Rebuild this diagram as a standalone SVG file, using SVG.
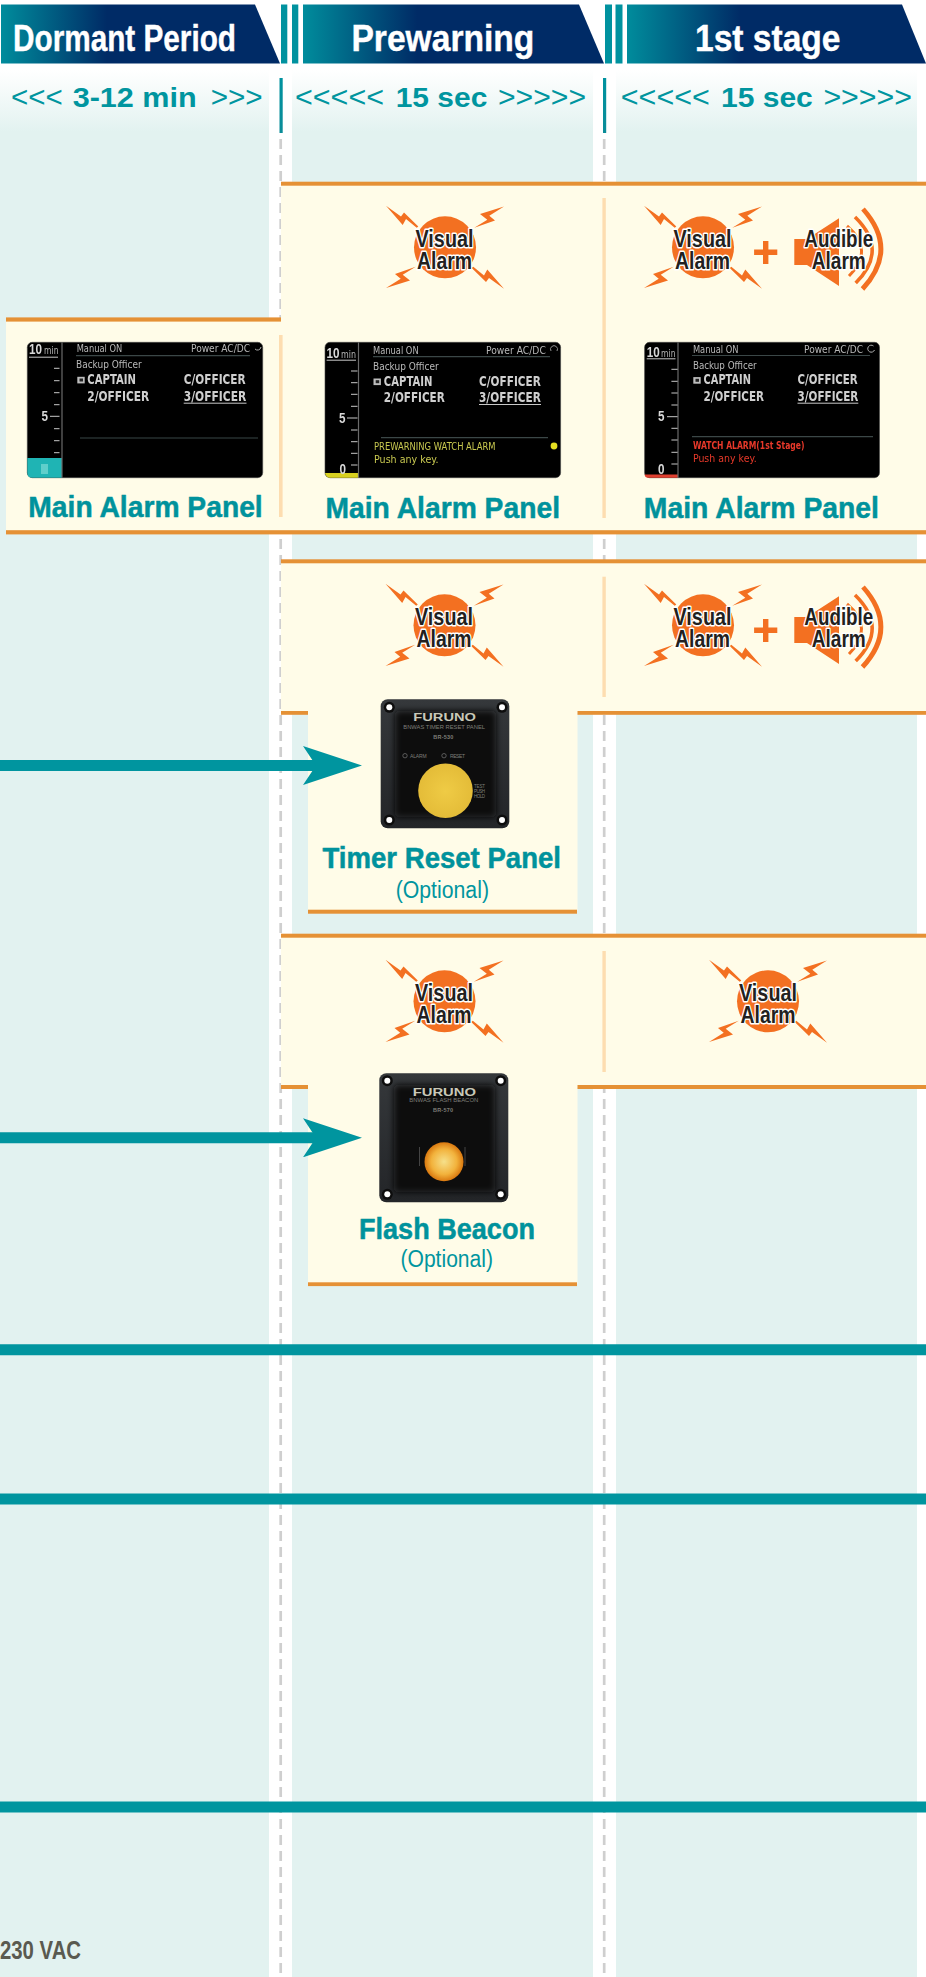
<svg xmlns="http://www.w3.org/2000/svg" width="926" height="1977" viewBox="0 0 926 1977">
<style>
text{font-family:"Liberation Sans",Arial,sans-serif}
.hd{font-size:37px;font-weight:bold;fill:#fff;stroke:#fff;stroke-width:.4}
.tb{font-size:28px;font-weight:bold;fill:#00959F}
.tr{font-size:29px;fill:#00959F}
.lbl{font-size:30px;font-weight:bold;fill:#00929C;stroke:#00929C;stroke-width:.5}
.opt{font-size:23px;fill:#00959F}
.ic{font-size:24px;font-weight:bold;fill:#231F20;stroke:#fff;stroke-width:3;paint-order:stroke;stroke-linejoin:round;text-anchor:middle}
.or{fill:#E59135}
.cream{fill:#FFFCE8}
.sep{fill:#FDDDB0}
.col{fill:url(#colGrad)}
.bar{fill:#00929F}
.sc{fill:#000;stroke:#444;stroke-width:.6}
.st{font-family:"DejaVu Sans",sans-serif;font-size:10px;fill:#B8B8B8}
.sb{font-family:"DejaVu Sans",sans-serif;font-size:13.5px;font-weight:bold;fill:#CFCFCF}
.sn{font-family:"Liberation Sans",sans-serif;font-size:14px;font-weight:bold;fill:#D8D8D8}
.ln{stroke:#C8C8C8;stroke-width:1;fill:none}
.dim{stroke:#3A4646;stroke-width:1.2;fill:none}
.dash{stroke:#CFCFCF;stroke-width:2.7;stroke-dasharray:10 6;fill:none}
.wire{stroke:#00959F;stroke-width:11;fill:none}
.dt{font-family:"Liberation Sans",sans-serif;fill:#7E7E78}
.sfx{fill:#F37021}
</style>
<defs>
<linearGradient id="colGrad" x1="0" y1="70" x2="0" y2="132" gradientUnits="userSpaceOnUse"><stop offset="0" stop-color="#fff"/><stop offset="1" stop-color="#E2F2F0"/></linearGradient>
<linearGradient id="hdGrad" x1="0" y1="0" x2="1" y2="0"><stop offset="0" stop-color="#008C9C"/><stop offset=".38" stop-color="#002B66"/><stop offset="1" stop-color="#002B66"/></linearGradient>
<linearGradient id="tick" x1="0" y1="0" x2="0" y2="1"><stop offset="0" stop-color="#00929F"/><stop offset="1" stop-color="#0A8C98"/></linearGradient>
<linearGradient id="case" x1="0" y1="0" x2="0" y2="1"><stop offset="0" stop-color="#35383B"/><stop offset="1" stop-color="#232528"/></linearGradient>
<radialGradient id="btn"><stop offset="0" stop-color="#EFCB45"/><stop offset="1" stop-color="#E4BC38"/></radialGradient>
<radialGradient id="beacon"><stop offset="0" stop-color="#F6E08A"/><stop offset=".65" stop-color="#F2B23C"/><stop offset="1" stop-color="#D9780F"/></radialGradient>
<filter id="soft" x="-5%" y="-5%" width="110%" height="110%"><feGaussianBlur stdDeviation=".3"/></filter>
<filter id="soft3" x="-10%" y="-10%" width="120%" height="120%"><feGaussianBlur stdDeviation="3"/></filter>
<marker id="head" markerUnits="userSpaceOnUse" markerWidth="59" markerHeight="39" viewBox="0 0 59 39" refX="13" refY="19.5" orient="auto"><path d="M0 0L59 19.5L0 39L13 19.5Z" fill="#00959F"/></marker>
<g id="visual" class="sfx">
<circle r="31"/>
<path d="M-59-41.5L-44-30.8L-41-34.8L-26.7-20.8L-28.3-19.5L-39-28.2L-42.3-22.2Z"/>
<path d="M59-40.8L35-33.2L42.3-27.5L29.3-19.5L50-26.8L44.3-31.5Z"/>
<path d="M-59 40.8L-35 33.2L-42.3 27.5L-29.3 19.5L-50 26.8L-44.3 31.5Z"/>
<path d="M59 41.5L44 30.8L41 34.8L26.7 20.8L28.3 19.5L39 28.2L42.3 22.2Z"/>
</g>
<g id="audible">
<path class="sfx" d="M794.3 239H807L839 218.3V286L807 265H794.3Z"/>
<g fill="none" stroke="#F37021">
<path stroke-width="4.8" d="M863 209Q899 249.5 862.5 289"/>
<path stroke-width="3.6" d="M855 217Q889 250 855.7 283"/>
<path stroke-width="3" d="M847 226Q875 250 849 276"/>
</g>
<path class="sfx" d="M763 241h5.4v8.6h8.9v5.4h-8.9v8.9H763V255h-8.9v-5.4H763Z"/>
</g>
</defs>

<g id="backdrop">
<rect width="926" height="1977" fill="#fff"/>
<rect class="col" x="0" y="70" width="269" height="1907"/>
<rect class="col" x="292" y="70" width="301" height="1907"/>
<rect class="col" x="616" y="70" width="301" height="1907"/>
<path class="dash" d="M280.7 139V1977M604.2 139V1977"/>
<rect x="279.5" y="78" width="3.2" height="55" fill="url(#tick)"/>
<rect x="603" y="78" width="3.2" height="55" fill="url(#tick)"/>
</g>

<g id="panels">
<path class="cream" d="M281 183H926V533H6V319H281Z"/>
<path class="cream" d="M281 561H926V713H577.5V911H308V713H281Z"/>
<path class="cream" d="M281 935H926V1087H577.5V1284H308V1087H281Z"/>
<rect class="or" x="281" y="181.7" width="645" height="4"/>
<rect class="or" x="6" y="317.4" width="275" height="4.2"/>
<rect class="or" x="6" y="530.2" width="920" height="4.2"/>
<rect class="or" x="281" y="559.3" width="645" height="4"/>
<rect class="or" x="281" y="711" width="27" height="3.8"/>
<rect class="or" x="577.5" y="711" width="348.5" height="3.8"/>
<rect class="or" x="308" y="909.7" width="269" height="4"/>
<rect class="or" x="281" y="933.7" width="645" height="4"/>
<rect class="or" x="281" y="1085" width="27" height="4"/>
<rect class="or" x="577.5" y="1085" width="348.5" height="4"/>
<rect class="or" x="308" y="1282.3" width="269" height="3.8"/>
<rect class="sep" x="279" y="335" width="3.6" height="182"/>
<rect class="sep" x="602.4" y="198" width="3.4" height="320"/>
<rect class="sep" x="602.4" y="576.7" width="3.4" height="120.3"/>
<rect class="sep" x="602.4" y="951" width="3.4" height="121"/>
</g>

<g id="connectors">
<path class="wire" d="M0 765.5H316" marker-end="url(#head)"/>
<path class="wire" d="M0 1137.8H316" marker-end="url(#head)"/>
<path class="wire" d="M0 1349.7H926"/>
<path class="wire" d="M0 1499H926"/>
<path class="wire" d="M0 1807H926"/>
</g>

<g id="header-dormant">
<path fill="url(#hdGrad)" d="M1 4.5H255L280 63.5H1Z"/>
<text class="hd" x="13" y="51" textLength="223" lengthAdjust="spacingAndGlyphs">Dormant Period</text>
<rect class="bar" x="281" y="4.5" width="6.3" height="59"/>
<rect class="bar" x="292" y="4.5" width="6.3" height="59"/>
</g>
<g id="header-prewarning">
<path fill="url(#hdGrad)" d="M303 4.5H579L604 63.5H303Z"/>
<text class="hd" x="351.4" y="51" textLength="183" lengthAdjust="spacingAndGlyphs">Prewarning</text>
<rect class="bar" x="605" y="4.5" width="7" height="59"/>
<rect class="bar" x="615.5" y="4.5" width="7" height="59"/>
</g>
<g id="header-first">
<path fill="url(#hdGrad)" d="M627 4.5H902L926 63.5H627Z"/>
<text class="hd" x="695" y="51" textLength="145.5" lengthAdjust="spacingAndGlyphs">1st stage</text>
</g>

<g id="time-dormant">
<text class="tr" x="11" y="107" textLength="51.7" lengthAdjust="spacingAndGlyphs">&lt;&lt;&lt;</text>
<text class="tb" x="72.7" y="107" textLength="124" lengthAdjust="spacingAndGlyphs">3-12 min</text>
<text class="tr" x="210.7" y="107" textLength="52" lengthAdjust="spacingAndGlyphs">&gt;&gt;&gt;</text>
</g>
<g id="time-prewarning">
<text class="tr" x="295" y="107" textLength="89" lengthAdjust="spacingAndGlyphs">&lt;&lt;&lt;&lt;&lt;</text>
<text class="tb" x="395.7" y="107" textLength="91.6" lengthAdjust="spacingAndGlyphs">15 sec</text>
<text class="tr" x="498" y="107" textLength="88" lengthAdjust="spacingAndGlyphs">&gt;&gt;&gt;&gt;&gt;</text>
</g>
<g id="time-first">
<text class="tr" x="620.8" y="107" textLength="89" lengthAdjust="spacingAndGlyphs">&lt;&lt;&lt;&lt;&lt;</text>
<text class="tb" x="721" y="107" textLength="91.8" lengthAdjust="spacingAndGlyphs">15 sec</text>
<text class="tr" x="823.4" y="107" textLength="88.6" lengthAdjust="spacingAndGlyphs">&gt;&gt;&gt;&gt;&gt;</text>
</g>

<g id="alarm-row1-prewarning">
<use href="#visual" x="445" y="247.3"/>
<text class="ic" x="444.5" y="246.7" textLength="58" lengthAdjust="spacingAndGlyphs">Visual</text>
<text class="ic" x="444.5" y="269" textLength="55" lengthAdjust="spacingAndGlyphs">Alarm</text>
</g>
<g id="alarm-row1-first">
<use href="#visual" x="703" y="247.3"/>
<text class="ic" x="702.5" y="246.7" textLength="58" lengthAdjust="spacingAndGlyphs">Visual</text>
<text class="ic" x="702.5" y="269" textLength="55" lengthAdjust="spacingAndGlyphs">Alarm</text>
<use href="#audible"/>
<text class="ic" x="838.8" y="246.7" textLength="69" lengthAdjust="spacingAndGlyphs">Audible</text>
<text class="ic" x="838.8" y="269.3" textLength="54" lengthAdjust="spacingAndGlyphs">Alarm</text>
</g>

<g id="screen-dormant">
<rect class="sc" x="27.3" y="342.3" width="235.4" height="135.4" rx="5"/>
<path fill="#1FB4B4" d="M27.3 458H62V477.7H32.3Q27.3 477.7 27.3 472.7Z"/>
<rect x="41" y="464" width="7" height="10" fill="#5FCFCB"/>
<g filter="url(#soft)">
<path d="M62 342.3V477.7" stroke="#6A6A6A" stroke-width="1.2"/>
<path class="ln" d="M54 368.3h5.5M54 380.7h5.5M54 392.7h5.5M54 404.7h5.5M50 416.3h9.5M54 428.7h5.5M54 440.7h5.5M54 452.7h5.5M29 357.2h29"/>
<text class="sn" x="29" y="354.3" textLength="13" lengthAdjust="spacingAndGlyphs">10</text>
<text class="st" x="44" y="354.3" textLength="14.5" lengthAdjust="spacingAndGlyphs">min</text>
<text class="sn" x="41.5" y="421" textLength="6.5" lengthAdjust="spacingAndGlyphs">5</text>
<text class="st" x="76.7" y="351.7" textLength="45.6" lengthAdjust="spacingAndGlyphs">Manual ON</text>
<text class="st" x="191" y="351.7" textLength="59" lengthAdjust="spacingAndGlyphs">Power AC/DC</text>
<path class="dim" d="M76 355.7H250M80 438H258"/>
<path d="M255 349a3.5 3.5 0 0 0 6-2" stroke="#B0B0B0" fill="none"/>
<text class="st" x="76" y="368.3" textLength="65.7" lengthAdjust="spacingAndGlyphs">Backup Officer</text>
<rect x="77.3" y="376.8" width="7.4" height="6.6" fill="#BDBDBD"/><rect x="79.5" y="378.5" width="3.5" height="3" fill="#222"/>
<text class="sb" x="87.3" y="384" textLength="48.7" lengthAdjust="spacingAndGlyphs">CAPTAIN</text>
<text class="sb" x="183.7" y="384" textLength="62" lengthAdjust="spacingAndGlyphs">C/OFFICER</text>
<text class="sb" x="87.3" y="401" textLength="62" lengthAdjust="spacingAndGlyphs">2/OFFICER</text>
<text class="sb" x="183.7" y="401" textLength="62.5" lengthAdjust="spacingAndGlyphs">3/OFFICER</text>
<path class="ln" d="M183.7 403.2H246.5"/>
</g>
<text class="lbl" x="28.3" y="517.3" textLength="234.4" lengthAdjust="spacingAndGlyphs">Main Alarm Panel</text>
</g>

<g id="screen-prewarning">
<rect class="sc" x="325" y="342.3" width="235.6" height="135.4" rx="5"/>
<path fill="#D8D020" d="M325 473H358.5V477.7H330Q326 477.7 325 473Z"/>
<g filter="url(#soft)">
<path d="M358.5 342.3V477.7" stroke="#6A6A6A" stroke-width="1.2"/>
<path class="ln" d="M351 371h6.5M351 382.7h6.5M351 394.3h6.5M351 406.3h6.5M347 418h10.5M351 430h6.5M351 441.7h6.5M351 453.3h6.5M351 465h6.5M326.6 360.2H356"/>
<text class="sn" x="326.6" y="358.3" textLength="13" lengthAdjust="spacingAndGlyphs">10</text>
<text class="st" x="341" y="358.3" textLength="15" lengthAdjust="spacingAndGlyphs">min</text>
<text class="sn" x="339" y="422.7" textLength="6.5" lengthAdjust="spacingAndGlyphs">5</text>
<text class="sn" x="339.5" y="474.3" textLength="6.5" lengthAdjust="spacingAndGlyphs">0</text>
<text class="st" x="373" y="354" textLength="45.6" lengthAdjust="spacingAndGlyphs">Manual ON</text>
<text class="st" x="486" y="353.7" textLength="59.8" lengthAdjust="spacingAndGlyphs">Power AC/DC</text>
<path class="dim" d="M373 356.7H550M381 437.7H548"/>
<path d="M551 351a3.5 3.5 0 1 1 6 0" stroke="#909090" fill="none"/>
<text class="st" x="373" y="370" textLength="65.7" lengthAdjust="spacingAndGlyphs">Backup Officer</text>
<rect x="373.5" y="378.5" width="7.4" height="6.6" fill="#BDBDBD"/><rect x="375.7" y="380.2" width="3.5" height="3" fill="#222"/>
<text class="sb" x="383.8" y="385.7" textLength="48.7" lengthAdjust="spacingAndGlyphs">CAPTAIN</text>
<text class="sb" x="479" y="385.7" textLength="61.8" lengthAdjust="spacingAndGlyphs">C/OFFICER</text>
<text class="sb" x="383.8" y="402.3" textLength="61" lengthAdjust="spacingAndGlyphs">2/OFFICER</text>
<text class="sb" x="479" y="402.3" textLength="61.8" lengthAdjust="spacingAndGlyphs">3/OFFICER</text>
<path class="ln" d="M479 404.5H541"/>
<text class="st" x="374" y="450" textLength="121.5" lengthAdjust="spacingAndGlyphs" style="fill:#C8C850">PREWARNING WATCH ALARM</text>
<text class="st" x="374" y="462.7" textLength="64.6" lengthAdjust="spacingAndGlyphs" style="fill:#C8C850">Push any key.</text>
<circle cx="554" cy="446" r="3.4" fill="#E6E020"/>
</g>
<text class="lbl" x="325.5" y="517.6" textLength="234.5" lengthAdjust="spacingAndGlyphs">Main Alarm Panel</text>
</g>

<g id="screen-first">
<rect class="sc" x="644.6" y="342.3" width="234.9" height="135.4" rx="5"/>
<path fill="#E04030" d="M644.6 474.5H678V477.7H648Q645 477.7 644.6 474.5Z"/>
<g filter="url(#soft)">
<path d="M678 342.3V477.7" stroke="#6A6A6A" stroke-width="1.2"/>
<path class="ln" d="M671.4 369.3h6.2M671.4 381.3h6.2M671.4 393h6.2M671.4 405h6.2M667 416.7h10.6M671.4 428.3h6.2M671.4 440h6.2M671.4 452.3h6.2M671.4 464h6.2M646.7 358.8H675.5"/>
<text class="sn" x="646.7" y="357" textLength="13" lengthAdjust="spacingAndGlyphs">10</text>
<text class="st" x="661" y="357" textLength="14.5" lengthAdjust="spacingAndGlyphs">min</text>
<text class="sn" x="658" y="421" textLength="6.5" lengthAdjust="spacingAndGlyphs">5</text>
<text class="sn" x="658" y="474" textLength="6.5" lengthAdjust="spacingAndGlyphs">0</text>
<text class="st" x="692.9" y="352.7" textLength="45.6" lengthAdjust="spacingAndGlyphs">Manual ON</text>
<text class="st" x="804" y="352.7" textLength="59" lengthAdjust="spacingAndGlyphs">Power AC/DC</text>
<path class="dim" d="M692 355.5H870M692 436.7H873"/>
<path d="M873.5 346a3.5 3.5 0 1 0 1 4" stroke="#B0B0B0" fill="none"/>
<text class="st" x="692.9" y="368.7" textLength="63.8" lengthAdjust="spacingAndGlyphs">Backup Officer</text>
<rect x="693.3" y="377.1" width="7.4" height="6.6" fill="#BDBDBD"/><rect x="695.5" y="378.8" width="3.5" height="3" fill="#222"/>
<text class="sb" x="703.6" y="384.3" textLength="47.4" lengthAdjust="spacingAndGlyphs">CAPTAIN</text>
<text class="sb" x="797.5" y="384.3" textLength="60.2" lengthAdjust="spacingAndGlyphs">C/OFFICER</text>
<text class="sb" x="703.6" y="401" textLength="60.4" lengthAdjust="spacingAndGlyphs">2/OFFICER</text>
<text class="sb" x="797.5" y="401" textLength="60.8" lengthAdjust="spacingAndGlyphs">3/OFFICER</text>
<path class="ln" d="M797.5 403.2H858.3"/>
<text class="st" x="692.9" y="449.3" textLength="111.6" lengthAdjust="spacingAndGlyphs" style="fill:#E8392A;font-weight:bold">WATCH ALARM(1st Stage)</text>
<text class="st" x="692.9" y="462" textLength="63.8" lengthAdjust="spacingAndGlyphs" style="fill:#E8392A">Push any key.</text>
</g>
<text class="lbl" x="643.8" y="517.6" textLength="235.2" lengthAdjust="spacingAndGlyphs">Main Alarm Panel</text>
</g>

<g id="alarm-row2-prewarning">
<use href="#visual" x="444.5" y="625.3"/>
<text class="ic" x="444" y="624.7" textLength="58" lengthAdjust="spacingAndGlyphs">Visual</text>
<text class="ic" x="444" y="647" textLength="55" lengthAdjust="spacingAndGlyphs">Alarm</text>
</g>
<g id="alarm-row2-first">
<use href="#visual" x="703" y="625.3"/>
<text class="ic" x="702.5" y="624.7" textLength="58" lengthAdjust="spacingAndGlyphs">Visual</text>
<text class="ic" x="702.5" y="647" textLength="55" lengthAdjust="spacingAndGlyphs">Alarm</text>
<use href="#audible" y="378"/>
<text class="ic" x="838.8" y="624.7" textLength="69" lengthAdjust="spacingAndGlyphs">Audible</text>
<text class="ic" x="838.8" y="647.3" textLength="54" lengthAdjust="spacingAndGlyphs">Alarm</text>
</g>

<g id="timer-reset-panel">
<rect x="380.7" y="699.3" width="128.6" height="129" rx="7" fill="url(#case)"/>
<rect x="395" y="711" width="101" height="106" rx="4" fill="#0C0C0C" filter="url(#soft3)"/>
<g fill="#0D0D0D"><circle cx="389.3" cy="707.3" r="5.5"/><circle cx="502" cy="707.3" r="5.5"/><circle cx="389.3" cy="820" r="5.5"/><circle cx="502" cy="820" r="5.5"/></g>
<g fill="#fff"><circle cx="389.3" cy="707.3" r="3"/><circle cx="502" cy="707.3" r="3"/><circle cx="389.3" cy="820" r="3"/><circle cx="502" cy="820" r="3"/></g>
<text class="dt" x="413.3" y="721" font-size="10" font-weight="bold" textLength="62.7" lengthAdjust="spacingAndGlyphs" style="fill:#C8C8B8">FURUNO</text>
<text class="dt" x="403.3" y="729.3" font-size="5.5" textLength="81.7" lengthAdjust="spacingAndGlyphs">BNWAS TIMER RESET PANEL</text>
<text class="dt" x="433.3" y="739" font-size="5.5" font-weight="bold" textLength="20">BR-530</text>
<circle cx="405" cy="755.7" r="2.2" fill="none" stroke="#777" stroke-width=".7"/>
<text class="dt" x="410" y="757.7" font-size="5" textLength="16.7">ALARM</text>
<circle cx="444" cy="755.7" r="2.2" fill="none" stroke="#777" stroke-width=".7"/>
<text class="dt" x="450" y="757.7" font-size="5" textLength="15">RESET</text>
<circle cx="445.5" cy="790.8" r="27.3" fill="url(#btn)"/>
<text class="dt" x="474" y="788.3" font-size="4.5" textLength="11">TEST</text>
<text class="dt" x="474" y="793.3" font-size="4.5" textLength="11">PUSH</text>
<text class="dt" x="474" y="798.3" font-size="4.5" textLength="11">HOLD</text>
<text class="lbl" x="322.5" y="868.3" textLength="238.5" lengthAdjust="spacingAndGlyphs">Timer Reset Panel</text>
<text class="opt" x="395.7" y="898.3" textLength="93.3" lengthAdjust="spacingAndGlyphs">(Optional)</text>
</g>

<g id="alarm-row3-prewarning">
<use href="#visual" x="444.5" y="1001.3"/>
<text class="ic" x="444" y="1000.7" textLength="58" lengthAdjust="spacingAndGlyphs">Visual</text>
<text class="ic" x="444" y="1023" textLength="55" lengthAdjust="spacingAndGlyphs">Alarm</text>
</g>
<g id="alarm-row3-first">
<use href="#visual" x="768" y="1001.3"/>
<text class="ic" x="768" y="1000.7" textLength="58" lengthAdjust="spacingAndGlyphs">Visual</text>
<text class="ic" x="768" y="1023" textLength="55" lengthAdjust="spacingAndGlyphs">Alarm</text>
</g>

<g id="flash-beacon">
<rect x="379.3" y="1073.3" width="129" height="129" rx="7" fill="url(#case)"/>
<rect x="394" y="1085" width="101" height="107" rx="4" fill="#0C0C0C" filter="url(#soft3)"/>
<g fill="#0D0D0D"><circle cx="387.3" cy="1080.7" r="5.5"/><circle cx="500.7" cy="1080.7" r="5.5"/><circle cx="387.3" cy="1194.3" r="5.5"/><circle cx="500.7" cy="1194.3" r="5.5"/></g>
<g fill="#fff"><circle cx="387.3" cy="1080.7" r="3"/><circle cx="500.7" cy="1080.7" r="3"/><circle cx="387.3" cy="1194.3" r="3"/><circle cx="500.7" cy="1194.3" r="3"/></g>
<text class="dt" x="412.7" y="1096" font-size="10" font-weight="bold" textLength="63.3" lengthAdjust="spacingAndGlyphs" style="fill:#C8C8B8">FURUNO</text>
<text class="dt" x="409.3" y="1102.3" font-size="5.5" textLength="69" lengthAdjust="spacingAndGlyphs">BNWAS FLASH BEACON</text>
<text class="dt" x="433" y="1112.3" font-size="5.5" font-weight="bold" textLength="20">BR-570</text>
<path d="M419.5 1147V1166M465 1147V1166" stroke="#444" stroke-width="1"/>
<circle cx="444" cy="1161.7" r="19.5" fill="url(#beacon)"/>
<text class="lbl" x="359" y="1239" textLength="176" lengthAdjust="spacingAndGlyphs">Flash Beacon</text>
<text class="opt" x="400.5" y="1266.7" textLength="92.5" lengthAdjust="spacingAndGlyphs">(Optional)</text>
</g>

<g id="voltage">
<text x="0" y="1959.3" font-size="25" font-weight="bold" fill="#5A5A50" textLength="81" lengthAdjust="spacingAndGlyphs">230 VAC</text>
</g>
</svg>
